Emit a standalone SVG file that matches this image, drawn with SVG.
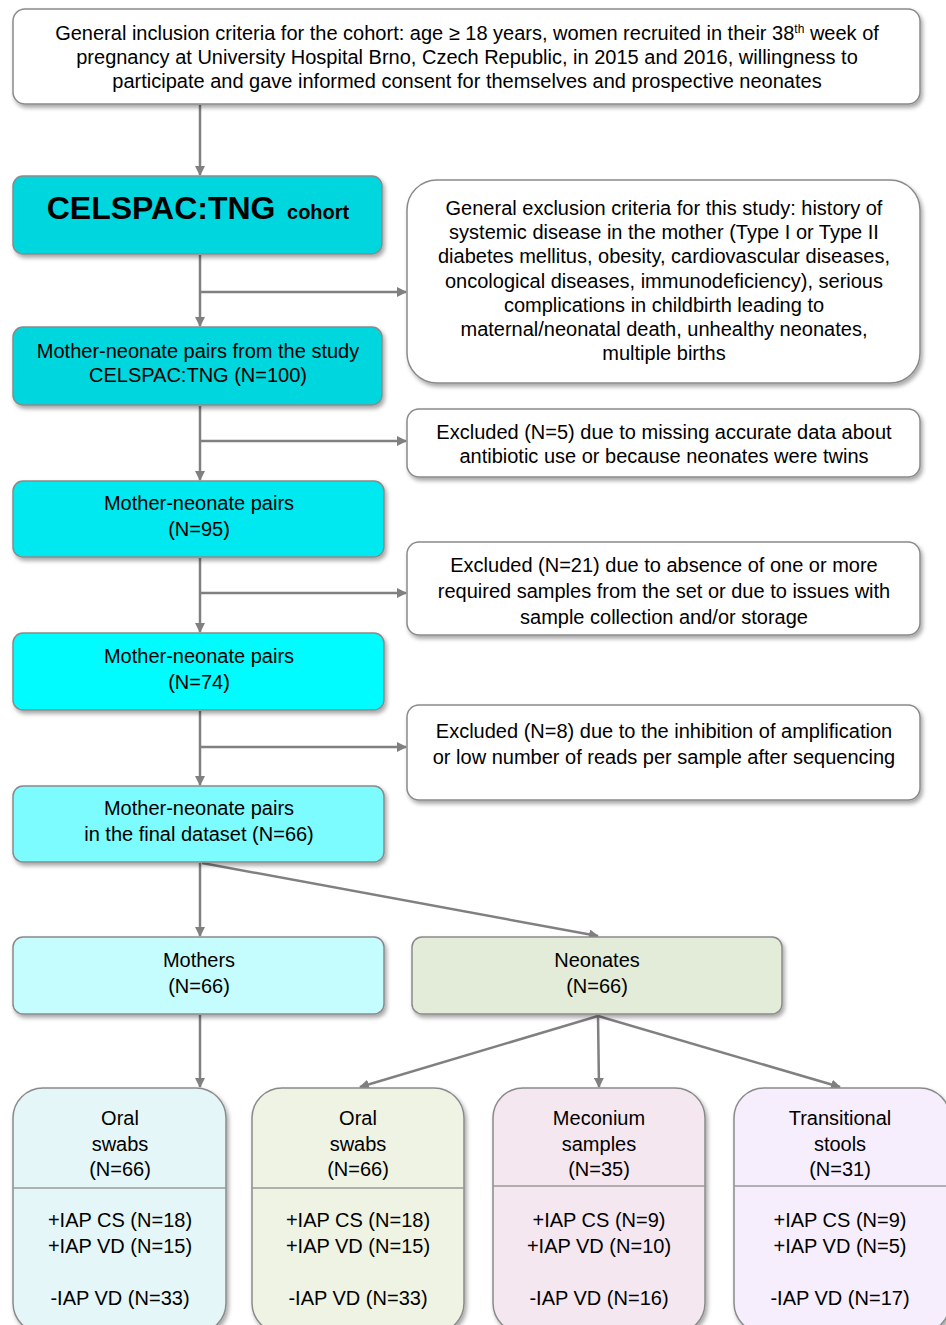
<svg xmlns="http://www.w3.org/2000/svg" width="946" height="1325" viewBox="0 0 946 1325">
<defs>
<filter id="sh" x="-10%" y="-10%" width="120%" height="130%">
<feDropShadow dx="2" dy="3" stdDeviation="2" flood-color="#000" flood-opacity="0.35"/>
</filter>
<marker id="ah" viewBox="0 0 10 10" refX="9" refY="5" markerWidth="10" markerHeight="10" markerUnits="userSpaceOnUse" orient="auto">
<path d="M0,0 L10,5 L0,10 z" fill="#808080"/>
</marker>
</defs>
<style>
.bx{stroke:#8a8a8a;stroke-width:1.5;filter:url(#sh)}
text{font-family:"Liberation Sans",Arial,sans-serif;font-size:20px;fill:#000;text-anchor:middle}
.big{font-size:32px;font-weight:bold}
.sm{font-size:20px;font-weight:bold}
.sup{font-size:12px}
.c{stroke:#808080;stroke-width:2.5;fill:none}
.a{marker-end:url(#ah)}
.dv{stroke:#9a9a9a;stroke-width:1.5}
</style>
<rect width="946" height="1325" fill="#fff"/>

<g id="connectors">
<line class="c a" x1="200" y1="105" x2="200" y2="175"/>
<line class="c a" x1="200" y1="255" x2="200" y2="326"/>
<line class="c a" x1="200" y1="292" x2="406" y2="292"/>
<line class="c a" x1="200" y1="406" x2="200" y2="480"/>
<line class="c a" x1="200" y1="441" x2="406" y2="441"/>
<line class="c a" x1="200" y1="558" x2="200" y2="632"/>
<line class="c a" x1="200" y1="593" x2="406" y2="593"/>
<line class="c a" x1="200" y1="711" x2="200" y2="785"/>
<line class="c a" x1="200" y1="747" x2="406" y2="747"/>
<line class="c a" x1="200" y1="863" x2="200" y2="936"/>
<line class="c a" x1="202" y1="863" x2="598" y2="936"/>
<line class="c a" x1="200" y1="1015" x2="200" y2="1087"/>
<line class="c a" x1="598" y1="1016" x2="360" y2="1087"/>
<line class="c a" x1="598" y1="1016" x2="599" y2="1087"/>
<line class="c a" x1="598" y1="1016" x2="840" y2="1087"/>
</g>

<g id="inclusion">
<rect class="bx" x="13" y="9" width="907" height="95" rx="12" fill="#fff"/>
<text x="467" y="40">General inclusion criteria for the cohort: age ≥ 18 years, women recruited in their 38<tspan class="sup" dy="-7">th</tspan><tspan dy="7"> week of</tspan></text>
<text x="467" y="64">pregnancy at University Hospital Brno, Czech Republic, in 2015 and 2016, willingness to</text>
<text x="467" y="88">participate and gave informed consent for themselves and prospective neonates</text>
</g>

<g id="cohort">
<rect class="bx" x="13" y="176" width="369" height="78" rx="10" fill="#00D6DE"/>
<text class="big" x="198" y="219">CELSPAC:TNG<tspan class="sm" dx="6"> cohort</tspan></text>
</g>

<g id="exclusion-general">
<rect class="bx" x="407" y="180" width="513" height="203" rx="30" fill="#fff"/>
<text x="664" y="215">General exclusion criteria for this study: history of</text>
<text x="664" y="239">systemic disease in the mother (Type I or Type II</text>
<text x="664" y="263">diabetes mellitus, obesity, cardiovascular diseases,</text>
<text x="664" y="288">oncological diseases, immunodeficiency), serious</text>
<text x="664" y="312">complications in childbirth leading to</text>
<text x="664" y="336">maternal/neonatal death, unhealthy neonates,</text>
<text x="664" y="360">multiple births</text>
</g>

<g id="pairs100">
<rect class="bx" x="13" y="327" width="369" height="78" rx="10" fill="#00D6DE"/>
<text x="198" y="358">Mother-neonate pairs from the study</text>
<text x="198" y="382">CELSPAC:TNG (N=100)</text>
</g>

<g id="excluded5">
<rect class="bx" x="407" y="409" width="513" height="68" rx="12" fill="#fff"/>
<text x="664" y="439">Excluded (N=5) due to missing accurate data about</text>
<text x="664" y="463">antibiotic use or because neonates were twins</text>
</g>

<g id="pairs95">
<rect class="bx" x="13" y="481" width="371" height="76" rx="10" fill="#00E8F0"/>
<text x="199" y="510">Mother-neonate pairs</text>
<text x="199" y="536">(N=95)</text>
</g>

<g id="excluded21">
<rect class="bx" x="407" y="542" width="513" height="93" rx="12" fill="#fff"/>
<text x="664" y="572">Excluded (N=21) due to absence of one or more</text>
<text x="664" y="598">required samples from the set or due to issues with</text>
<text x="664" y="624">sample collection and/or storage</text>
</g>

<g id="pairs74">
<rect class="bx" x="13" y="633" width="371" height="77" rx="10" fill="#00FCFF"/>
<text x="199" y="663">Mother-neonate pairs</text>
<text x="199" y="689">(N=74)</text>
</g>

<g id="excluded8">
<rect class="bx" x="407" y="705" width="513" height="95" rx="12" fill="#fff"/>
<text x="664" y="738">Excluded (N=8) due to the inhibition of amplification</text>
<text x="664" y="764">or low number of reads per sample after sequencing</text>
</g>

<g id="pairs66">
<rect class="bx" x="13" y="786" width="371" height="76" rx="10" fill="#7BFCFF"/>
<text x="199" y="815">Mother-neonate pairs</text>
<text x="199" y="841">in the final dataset (N=66)</text>
</g>

<g id="mothers">
<rect class="bx" x="13" y="937" width="371" height="77" rx="10" fill="#C5FCFD"/>
<text x="199" y="967">Mothers</text>
<text x="199" y="993">(N=66)</text>
</g>

<g id="neonates">
<rect class="bx" x="412" y="937" width="370" height="77" rx="10" fill="#E2ECD8"/>
<text x="597" y="967">Neonates</text>
<text x="597" y="993">(N=66)</text>
</g>

<g id="mother-oral">
<rect class="bx" x="13" y="1088" width="213" height="245" rx="30" fill="#E4F6F8"/>
<line class="dv" x1="13" y1="1188" x2="226" y2="1188"/>
<text x="120" y="1125">Oral</text>
<text x="120" y="1151">swabs</text>
<text x="120" y="1176">(N=66)</text>
<text x="120" y="1227">+IAP CS (N=18)</text>
<text x="120" y="1253">+IAP VD (N=15)</text>
<text x="120" y="1305">-IAP VD (N=33)</text>
</g>

<g id="neonate-oral">
<rect class="bx" x="252" y="1088" width="212" height="245" rx="30" fill="#EFF3E4"/>
<line class="dv" x1="252" y1="1188" x2="464" y2="1188"/>
<text x="358" y="1125">Oral</text>
<text x="358" y="1151">swabs</text>
<text x="358" y="1176">(N=66)</text>
<text x="358" y="1227">+IAP CS (N=18)</text>
<text x="358" y="1253">+IAP VD (N=15)</text>
<text x="358" y="1305">-IAP VD (N=33)</text>
</g>

<g id="meconium">
<rect class="bx" x="493" y="1088" width="212" height="245" rx="30" fill="#F4E7F0"/>
<line class="dv" x1="493" y1="1186" x2="705" y2="1186"/>
<text x="599" y="1125">Meconium</text>
<text x="599" y="1151">samples</text>
<text x="599" y="1176">(N=35)</text>
<text x="599" y="1227">+IAP CS (N=9)</text>
<text x="599" y="1253">+IAP VD (N=10)</text>
<text x="599" y="1305">-IAP VD (N=16)</text>
</g>

<g id="transitional">
<rect class="bx" x="734" y="1088" width="216" height="245" rx="30" fill="#F6EEFC"/>
<line class="dv" x1="734" y1="1186" x2="950" y2="1186"/>
<text x="840" y="1125">Transitional</text>
<text x="840" y="1151">stools</text>
<text x="840" y="1176">(N=31)</text>
<text x="840" y="1227">+IAP CS (N=9)</text>
<text x="840" y="1253">+IAP VD (N=5)</text>
<text x="840" y="1305">-IAP VD (N=17)</text>
</g>
</svg>
